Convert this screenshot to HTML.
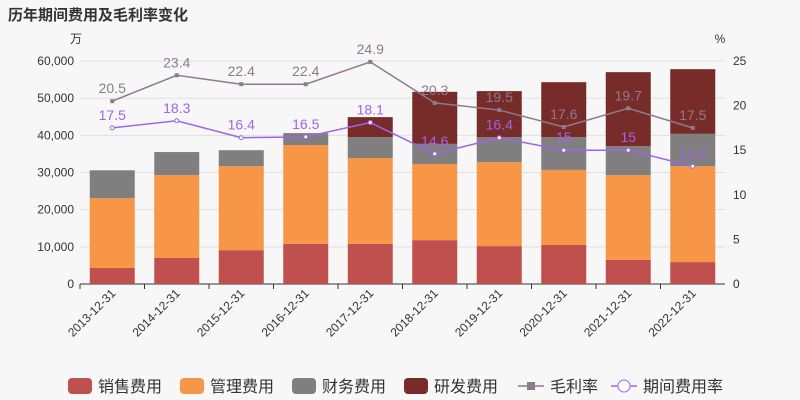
<!DOCTYPE html>
<html><head><meta charset="utf-8"><style>
body{margin:0;background:#f7f7f7;}
svg{display:block;font-family:"Liberation Sans","Noto Sans CJK SC",sans-serif;}
</style></head><body>
<svg id="c" width="800" height="400"></svg>
<script>
const categories=["2013-12-31","2014-12-31","2015-12-31","2016-12-31","2017-12-31","2018-12-31","2019-12-31","2020-12-31","2021-12-31","2022-12-31"];
const sales=[4300,7000,9100,10800,10800,11800,10200,10500,6500,5900];
const mgmt=[18800,22300,22600,26600,23100,20500,22600,20200,22800,25800];
const fin=[7500,6200,4300,3200,5600,5400,6700,8800,7800,8700];
const rd=[0,0,0,0,5400,14000,12400,14800,19900,17400];
const gross=[20.5,23.4,22.4,22.4,24.9,20.3,19.5,17.6,19.7,17.5];
const period=[17.5,18.3,16.4,16.5,18.1,14.6,16.4,15,15,13.2];
const leftTicks=[0,10000,20000,30000,40000,50000,60000];
const rightTicks=[0,5,10,15,20,25];
const L=80,R=725,T=61,B=284;
const yL=v=>B-(v/60000)*(B-T);
const yR=v=>B-(v/25)*(B-T);
const step=(R-L)/categories.length;
const xC=i=>L+step*(i+0.5);
const svg=document.getElementById('c');
const NS='http://www.w3.org/2000/svg';
function el(tag,attrs,parent){const e=document.createElementNS(NS,tag);for(const k in attrs)e.setAttribute(k,attrs[k]);(parent||svg).appendChild(e);return e;}
function txt(s,attrs,parent){const e=el('text',attrs,parent);e.textContent=s;return e;}
let t=txt('历年期间费用及毛利率变化',{x:8,y:20,'font-size':15,'font-weight':'bold',fill:'#333'});


t=txt('万',{x:76,y:43,'font-size':12,fill:'#333','text-anchor':'middle'});


t=txt('%',{x:720,y:43,'font-size':12,fill:'#333','text-anchor':'middle'});


leftTicks.forEach(v=>{
  const g=el('line',{x1:L,x2:R,y1:yL(v),y2:yL(v),stroke:v===0?'#333':'#e0e0e0'});
  
  
  const a=txt(v.toLocaleString('en-US'),{x:L-6,y:yL(v)+4,'font-size':12,fill:'#333','text-anchor':'end'});
  
  
});
rightTicks.forEach(v=>{
  const a=txt(String(v),{x:R+8,y:yR(v)+4,'font-size':12,fill:'#333'});
  
  
});
const series=[[sales,'#c0504d','sales'],[mgmt,'#f79646','mgmt'],[fin,'#7f7f7f','finance'],[rd,'#772c2a','rd']];
categories.forEach((c,i)=>{
  let acc=0;const bw=45,x=xC(i)-bw/2;
  series.forEach(([arr,col,nm])=>{
    const v=arr[i];if(v<=0)return;
    const r=el('rect',{x:x,y:yL(acc+v),width:bw,height:yL(acc)-yL(acc+v),fill:col});
    
    
    acc+=v;
  });
  const tk=el('line',{x1:L+step*i,x2:L+step*i,y1:B,y2:B+5,stroke:'#333'});
  
  
  const lx=xC(i)+4,ly=B+10;
  const lb=txt(c,{x:lx,y:ly,'font-size':12,fill:'#333','text-anchor':'end',transform:`rotate(-45 ${lx} ${ly})`});
  
  
});
function line(arr,col,nm,circle){
  const p=el('polyline',{points:arr.map((v,i)=>xC(i)+','+yR(v)).join(' '),fill:'none',stroke:col,'stroke-width':1.5});
  
  
  arr.forEach((v,i)=>{
    const m=circle?el('circle',{cx:xC(i),cy:yR(v),r:2,fill:'#fff',stroke:col}):el('rect',{x:xC(i)-2,y:yR(v)-2,width:4,height:4,fill:col});
    
    
    const l=txt(String(v),{x:xC(i),y:yR(v)-8,'font-size':14,fill:col,'text-anchor':'middle'});
    
    
  });
}
line(gross,'#8c7b8c','gross-margin',false);
line(period,'#a064e6','period-expense-rate',true);
const leg=[['销售费用','#c0504d','rect'],['管理费用','#f79646','rect'],['财务费用','#7f7f7f','rect'],['研发费用','#772c2a','rect'],['毛利率','#8c7b8c','sq'],['期间费用率','#a064e6','circ']];
const lx0=[68,180,292,404,518,611];
leg.forEach(([n,col,k],i)=>{
  const g=el('g',{});
  
  
  const x=lx0[i],y=386;
  if(k==='rect') el('rect',{x:x,y:y-8,width:24,height:16,rx:4,fill:col},g);
  else{el('line',{x1:x,x2:x+26,y1:y,y2:y,stroke:col,'stroke-width':1.5},g);
    if(k==='sq') el('rect',{x:x+9,y:y-4,width:8,height:8,fill:col},g);
    else el('circle',{cx:x+13,cy:y,r:6,fill:'#fff',stroke:col},g);}
  txt(n,{x:x+(k==='rect'?30:32),y:y+6,'font-size':16,fill:'#333'},g);
});
</script>
</body></html>
